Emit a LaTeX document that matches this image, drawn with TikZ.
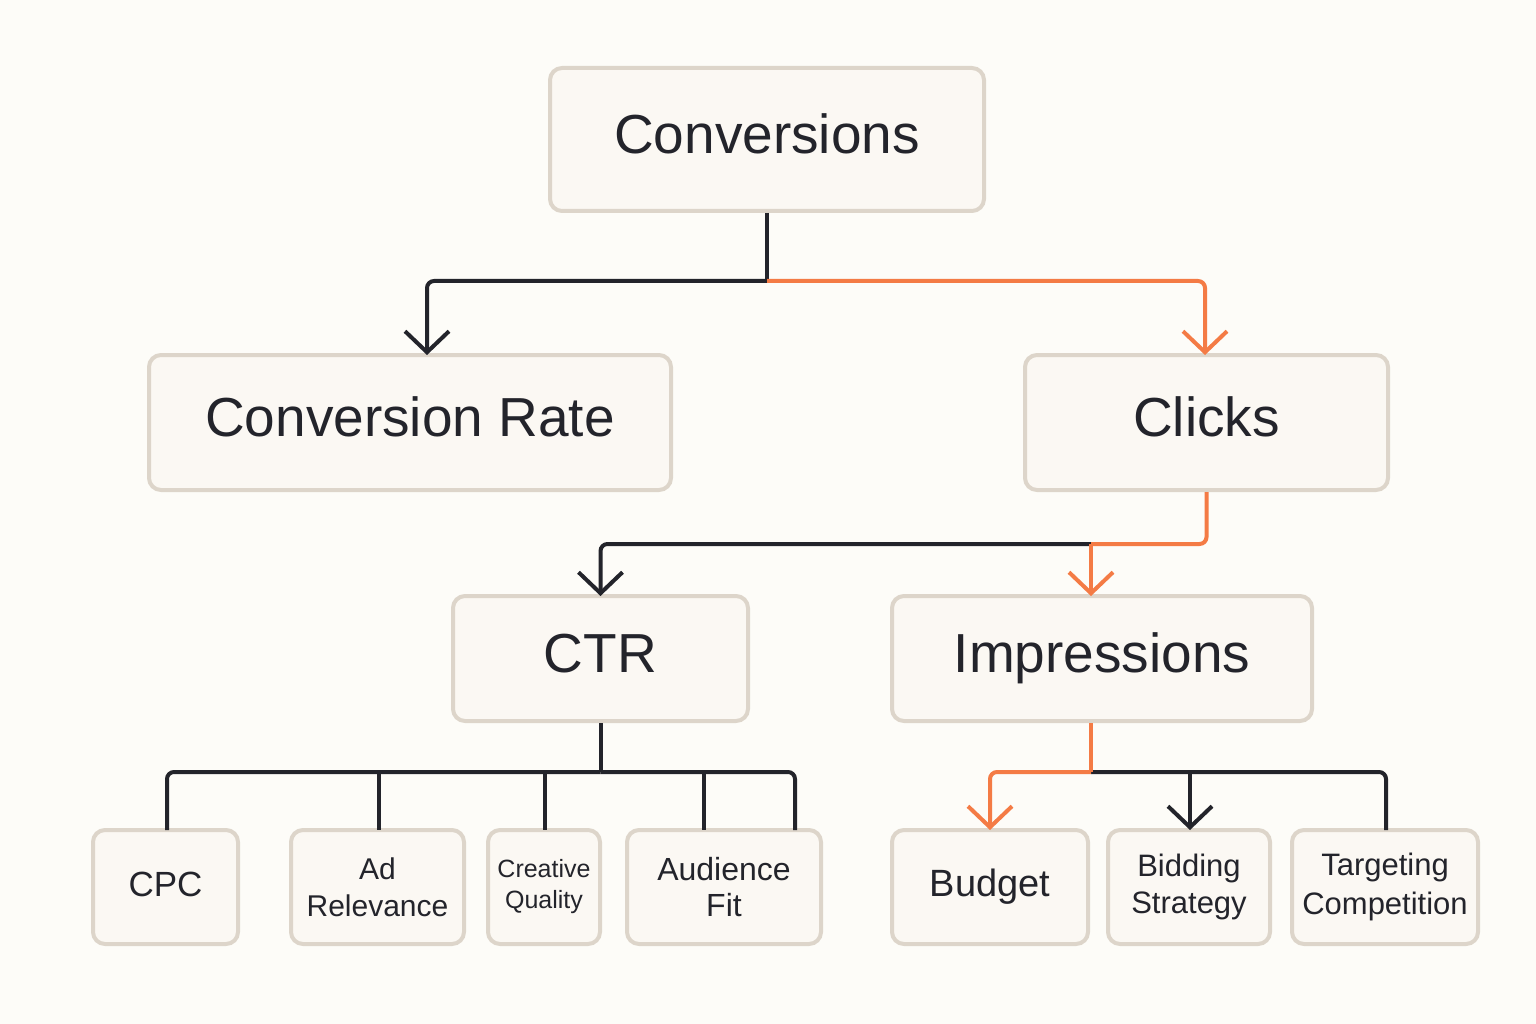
\documentclass[tikz,border=0pt]{standalone}
\usepackage{fontspec}
\setmainfont{Liberation Sans}
\usetikzlibrary{arrows.meta,calc}
\definecolor{bgc}{HTML}{FDFCF8}
\definecolor{boxfill}{HTML}{FBF8F3}
\definecolor{boxline}{HTML}{DDD5CA}
\definecolor{ink}{HTML}{23242B}
\definecolor{accent}{HTML}{F47B45}
\newcommand{\fs}[1]{\fontsize{#1}{1.2\dimexpr#1pt\relax}\selectfont}
\tikzset{
  box/.style={draw=boxline, fill=boxfill, line width=4pt, rounded corners=12pt,
    inner sep=0pt, align=center, text=ink},
  oneline/.style={text height=0.72*#1, text depth=0.2*#1},
  big/.style={box, oneline=55pt, font=\fs{55}},
  conn/.style={draw=ink, line width=4pt, rounded corners=7pt},
  hot/.style={draw=accent, line width=4pt, rounded corners=7pt},
  tip/.style={-{Straight Barb[length=21pt,width=44pt,line width=4pt]}},
}
\begin{document}
\begin{tikzpicture}[x=1pt,y=-1pt]
\fill[bgc] (0,0) rectangle (1536,1024);
\useasboundingbox (0,0) rectangle (1536,1024);

% level 0
\node[big, minimum width=434pt, minimum height=143pt] (conv) at (767,139.5) {Conversions};
% level 1
\node[big, minimum width=522pt, minimum height=135pt] (cr) at (410,422.5) {Conversion Rate};
\node[big, minimum width=363pt, minimum height=135pt] (clicks) at (1206.5,422.5) {Clicks};
% level 2
\node[big, minimum width=295pt, minimum height=125pt] (ctr) at (600.5,658.5) {CTR};
\node[big, minimum width=420pt, minimum height=125pt] (imp) at (1102,658.5) {Impressions};
% level 3
\node[box, oneline=35pt, font=\fs{35}, minimum width=145pt, minimum height=114pt] (cpc) at (165.5,887) {CPC};
\node[box, font=\fontsize{30}{37}\selectfont, minimum width=173pt, minimum height=114pt] (adr) at (377.5,887) {Ad\\Relevance};
\node[box, font=\fontsize{25}{31}\selectfont, minimum width=112pt, minimum height=114pt] (cq) at (544,887) {Creative\\Quality};
\node[box, font=\fontsize{32}{36}\selectfont, minimum width=194pt, minimum height=114pt] (af) at (724,887) {Audience\\Fit};
\node[box, oneline=38pt, font=\fs{38}, minimum width=196pt, minimum height=114pt] (bud) at (990,887) {Budget};
\node[box, font=\fontsize{31}{37}\selectfont, minimum width=162pt, minimum height=114pt] (bid) at (1189,887) {Bidding\\Strategy};
\node[box, font=\fontsize{31}{39}\selectfont, minimum width=186pt, minimum height=114pt] (tc) at (1385,887) {Targeting\\Competition};

% junctions
\coordinate (j1) at (767,281);
\coordinate (j2) at (1091,544);
\coordinate (j3) at (600.5,772);
\coordinate (j4) at (1091,772);

% Conversions -> Conversion Rate / Clicks
\draw[conn] (conv.south) -- (j1);
\draw[conn,tip] (j1) -| ([xshift=17pt,yshift=-2pt]cr.north);
\draw[hot,tip] (j1) -| ([xshift=-1.5pt,yshift=-2pt]clicks.north);

% Clicks -> CTR / Impressions
\draw[conn,tip] (j2) -| ([yshift=-2pt]ctr.north);
\draw[hot] (clicks.south) |- (j2);
\draw[hot,tip] (j2) -- ([xshift=-11pt,yshift=-2pt]imp.north);

% CTR -> children
\draw[conn] (ctr.south) -- (j3);
\draw[conn] (j3) -| ([xshift=1.5pt,yshift=-2pt]cpc.north);
\draw[conn] (j3) -| ([xshift=71pt,yshift=-2pt]af.north);
\draw[conn] ([xshift=1.5pt]adr.north |- j3) -- ([xshift=1.5pt,yshift=-2pt]adr.north);
\draw[conn] ([xshift=1pt]cq.north |- j3) -- ([xshift=1pt,yshift=-2pt]cq.north);
\draw[conn] ([xshift=-20pt]af.north |- j3) -- ([xshift=-20pt,yshift=-2pt]af.north);

% Impressions -> children
\draw[conn] (j4) -| ([xshift=1pt,yshift=-2pt]tc.north);
\draw[conn,tip] ([xshift=1pt]bid.north |- j4) -- ([xshift=1pt,yshift=-2pt]bid.north);
\draw[hot] ([xshift=-11pt]imp.south) -- (j4);
\draw[hot,tip] (j4) -| ([yshift=-2pt]bud.north);
\end{tikzpicture}
\end{document}
